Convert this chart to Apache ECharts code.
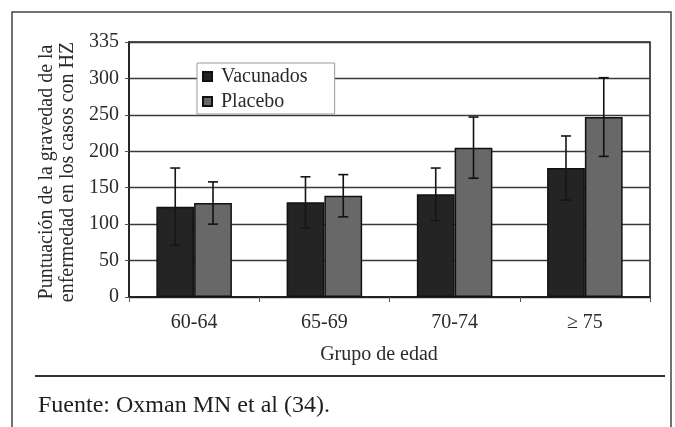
<!DOCTYPE html>
<html>
<head>
<meta charset="utf-8">
<script src="https://cdn.jsdelivr.net/npm/echarts@6/dist/echarts.min.js"></script>
<style>
  html, body { margin: 0; padding: 0; background: #fff; }
  #chart { width: 675px; height: 427px; }
</style>
</head>
<body>
<div id="chart"></div>
<script>
// Age groups and mean severity scores with their error margins
const categories = ['60-64', '65-69', '70-74', '\u2265 75'];
const vacunados = [124, 130, 141, 177];
const vacunadosErr = [53, 35, 36, 44];
const placebo = [129, 139, 205, 247];
const placeboErr = [29, 29, 42, 54];
const yTickLabels = ['0', '50', '100', '150', '200', '250', '300', '335'];

const SERIF = '"Liberation Serif", "DejaVu Serif", serif';
const TEXT = '#2a2a2a';
const BAR_FRACTION = 0.29;
const FS = 20;

function errorData(values, errs) {
  return values.map((v, i) => [i, v - errs[i], v + errs[i]]);
}

// Error whiskers, drawn with the category scale and value axis
function errorBars(side, stroke) {
  return function (params, api) {
    const idx = api.value(0);
    const lo = api.coord([idx, api.value(1)]);
    const hi = api.coord([idx, api.value(2)]);
    const band = api.size([1, 0])[0];
    const x = lo[0] + side * band * BAR_FRACTION / 2;
    const cap = 5;
    const style = { stroke: stroke, lineWidth: 1.6 };
    return {
      type: 'group',
      children: [
        { type: 'line', shape: { x1: x, y1: lo[1], x2: x, y2: hi[1] }, style },
        { type: 'line', shape: { x1: x - cap, y1: hi[1], x2: x + cap, y2: hi[1] }, style },
        { type: 'line', shape: { x1: x - cap, y1: lo[1], x2: x + cap, y2: lo[1] }, style }
      ]
    };
  };
}

const chart = echarts.init(document.getElementById('chart'), null, { renderer: 'canvas' });

chart.setOption({
  backgroundColor: '#fff',
  animation: false,
  grid: {
    left: 129, right: 25, top: 42, bottom: 130,
    show: true, borderColor: '#222', borderWidth: 1.6, backgroundColor: 'transparent'
  },
  legend: {
    data: ['Vacunados', 'Placebo'],
    orient: 'vertical',
    left: 197, top: 63,
    padding: [3, 27, 2, 5],
    itemGap: 4,
    itemWidth: 9, itemHeight: 9,
    icon: 'rect',
    backgroundColor: '#fff',
    borderColor: '#9a9a9a',
    borderWidth: 1,
    textStyle: { fontFamily: SERIF, fontSize: FS, color: TEXT, lineHeight: 21, padding: [0, 0, 0, 4] }
  },
  xAxis: {
    type: 'category',
    data: categories,
    axisLine: { lineStyle: { color: '#222', width: 1.8 } },
    axisTick: { show: true, length: 5, lineStyle: { color: '#555' } },
    axisLabel: { fontFamily: SERIF, fontSize: FS, color: TEXT, margin: 16 }
  },
  yAxis: {
    type: 'value',
    min: 0, max: 350, interval: 50,
    axisLine: { show: true, lineStyle: { color: '#222', width: 1.8 } },
    axisTick: { show: true, length: 4, lineStyle: { color: '#555' } },
    axisLabel: {
      fontFamily: SERIF, fontSize: FS, color: TEXT, margin: 10,
      formatter: (v) => yTickLabels[Math.round(v / 50)]
    },
    splitLine: { lineStyle: { color: '#3a3a3a', width: 1.3 } }
  },
  series: [
    {
      name: 'Vacunados', type: 'bar', data: vacunados,
      barWidth: (BAR_FRACTION * 100) + '%', barGap: '0%',
      itemStyle: { color: '#242424', borderColor: '#111', borderWidth: 1.5 }
    },
    {
      name: 'Placebo', type: 'bar', data: placebo,
      barWidth: (BAR_FRACTION * 100) + '%', barGap: '0%',
      itemStyle: { color: '#686868', borderColor: '#111', borderWidth: 1.5 }
    },
    {
      type: 'custom', name: 'errVac', data: errorData(vacunados, vacunadosErr),
      renderItem: errorBars(-1, '#161616'), z: 5, silent: true,
      encode: { x: 0, y: [1, 2] }
    },
    {
      type: 'custom', name: 'errPla', data: errorData(placebo, placeboErr),
      renderItem: errorBars(1, '#111'), z: 5, silent: true,
      encode: { x: 0, y: [1, 2] }
    }
  ],
  graphic: [
    // page frame around the figure
    {
      type: 'polyline', silent: true,
      shape: { points: [[12, 430], [12, 12], [671, 12], [671, 430]] },
      style: { stroke: '#444', lineWidth: 1.5, fill: null }
    },
    // rule separating the figure from its source note
    {
      type: 'line', silent: true,
      shape: { x1: 35, y1: 376, x2: 665, y2: 376 },
      style: { stroke: '#333', lineWidth: 2 }
    },
    {
      type: 'text', silent: true, x: 57, y: 172, rotation: Math.PI / 2,
      style: {
        text: 'Puntuación de la gravedad de la\nenfermedad en los casos con HZ',
        font: FS + 'px ' + SERIF, fill: TEXT, lineHeight: 21,
        align: 'center', verticalAlign: 'middle'
      }
    },
    {
      type: 'text', silent: true, x: 379, y: 355,
      style: {
        text: 'Grupo de edad', font: FS + 'px ' + SERIF, fill: TEXT,
        align: 'center', verticalAlign: 'middle'
      }
    },
    {
      type: 'text', silent: true, x: 38, y: 406,
      style: {
        text: 'Fuente: Oxman MN et al (34).', font: '24px ' + SERIF, fill: '#1e1e1e',
        align: 'left', verticalAlign: 'middle'
      }
    }
  ]
});
</script>
</body>
</html>
